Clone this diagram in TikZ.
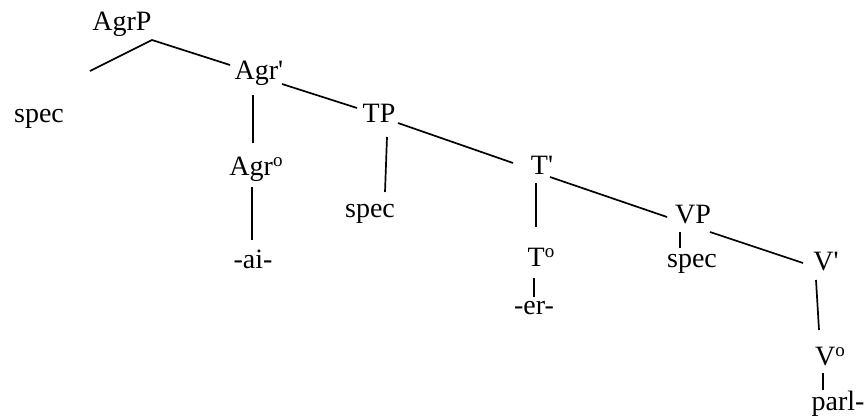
\documentclass[tikz,border=0pt]{standalone}
\usepackage{fontspec}
\newfontfamily\tf{Liberation Serif}
\newcommand{\supo}{\raisebox{9pt}{\fontsize{19}{19}\selectfont o}}
\begin{document}
\begin{tikzpicture}[x=1pt,y=-1pt,
  lab/.style={anchor=base,inner sep=0pt,font=\tf\fontsize{28}{30}\selectfont},
  edge/.style={line width=1.7pt,black},
  thin edge/.style={line width=1.2pt,black}]
\useasboundingbox (0,0) rectangle (867,419);
% labels
\node[lab] (AgrP) at (122,31) {AgrP};
\node[lab] (Agrbar) at (259,80) {Agr'};
\node[lab] (spec1) at (39,123) {spec};
\node[lab] (Agr0) at (256,176) {Agr\supo};
\node[lab] (ai) at (253,269) {-ai-};
\node[lab] (TP) at (379,123) {TP};
\node[lab] (spec2) at (370,218) {spec};
\node[lab] (Tbar) at (542,175) {T'};
\node[lab] (T0) at (541,267) {T\supo};
\node[lab] (er) at (534,315) {-er-};
\node[lab] (VP) at (693,224) {VP};
\node[lab] (spec3) at (692,268) {spec};
\node[lab] (Vbar) at (826,271) {V'};
\node[lab] (V0) at (830,365) {V\supo};
\node[lab] (parl) at (838,410) {parl-};
% connector end points
\coordinate (a1) at (152,40);
\coordinate (a2) at (90,71);
\coordinate (a3) at (230,65);
\coordinate (b1) at (253,95);
\coordinate (b2) at (253,143);
\coordinate (b3) at (252,187);
\coordinate (b4) at (252,240);
\coordinate (c1) at (282,84);
\coordinate (c2) at (357,108);
\coordinate (d1) at (387,137);
\coordinate (d2) at (385,192);
\coordinate (e1) at (398,123);
\coordinate (e2) at (513,163);
\coordinate (f1) at (536,183);
\coordinate (f2) at (536,227);
\coordinate (g1) at (534,278);
\coordinate (g2) at (534,297);
\coordinate (h1) at (550,177);
\coordinate (h2) at (667,217);
\coordinate (i1) at (680,232);
\coordinate (i2) at (680,248);
\coordinate (j1) at (710,232);
\coordinate (j2) at (803,263);
\coordinate (k1) at (816,280);
\coordinate (k2) at (819,330);
\coordinate (l1) at (823,373);
\coordinate (l2) at (823,390);
% connectors
\draw[edge] (a2) -- (a1) -- (a3);
\draw[edge] (b1) -- (b2);
\draw[edge] (b3) -- (b4);
\draw[edge] (c1) -- (c2);
\draw[edge] (d1) -- (d2);
\draw[edge] (e1) -- (e2);
\draw[edge] (f1) -- (f2);
\draw[thin edge] (g1) -- (g2);
\draw[edge] (h1) -- (h2);
\draw[thin edge] (i1) -- (i2);
\draw[edge] (j1) -- (j2);
\draw[edge] (k1) -- (k2);
\draw[thin edge] (l1) -- (l2);
\end{tikzpicture}
\end{document}
